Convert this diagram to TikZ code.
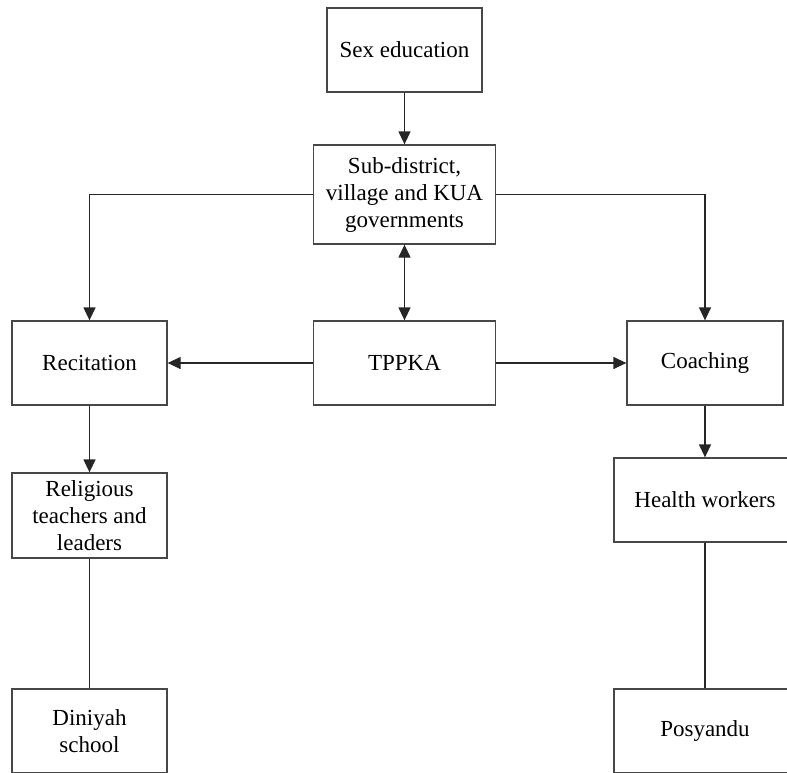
\documentclass[tikz,border=0pt]{standalone}
\usepackage{fontspec}
\setmainfont{Liberation Serif}
\usetikzlibrary{arrows.meta}
\begin{document}
\begin{tikzpicture}[x=1pt,y=-1pt,
  box/.style={draw=black!72, line width=1.3pt, rectangle, align=center, inner sep=0pt,
    font=\fontsize{23}{27}\selectfont},
  conn/.style={draw=black!85, line width=1.3pt},
  tip/.style={Triangle[length=13pt,width=12pt]},
  arr/.style={conn, -{Triangle[length=13pt,width=12pt]}},
  darr/.style={conn, {Triangle[length=13pt,width=12pt]}-{Triangle[length=13pt,width=12pt]}}]
\useasboundingbox (0,0) rectangle (787,772);
\node[box, minimum width=155pt, minimum height=84pt] (sex) at (404.5,50) {Sex education};
\node[box, minimum width=182pt, minimum height=99pt] (sub) at (404.5,194.5) {Sub-district,\\village and KUA\\governments};
\node[box, minimum width=182pt, minimum height=84pt] (tppka) at (404.5,363) {TPPKA};
\node[box, minimum width=155pt, minimum height=84pt] (rec) at (89.5,363) {Recitation};
\node[box, minimum width=156pt, minimum height=84pt] (coach) at (705,363) {Coaching};
\node[box, minimum width=182pt, minimum height=84pt] (health) at (705,500) {Health workers};
\node[box, minimum width=155pt, minimum height=85pt] (relig) at (89.5,515.5) {Religious\\teachers and\\leaders};
\node[box, minimum width=155pt, minimum height=84pt] (din) at (89.5,731) {Diniyah\\school};
\node[box, minimum width=182pt, minimum height=84pt] (pos) at (705,731) {Posyandu};
\draw[arr] (sex) -- (sub);
\draw[darr] (sub) -- (tppka);
\draw[arr] (tppka) -- (rec);
\draw[arr] (tppka) -- (coach);
\draw[arr] (sub.west) -| (rec.north);
\draw[arr] (sub.east) -| (coach.north);
\draw[arr] (rec) -- (relig);
\draw[arr] (coach) -- (health);
\draw[conn] (relig) -- (din);
\draw[conn] (health) -- (pos);
\end{tikzpicture}
\end{document}
